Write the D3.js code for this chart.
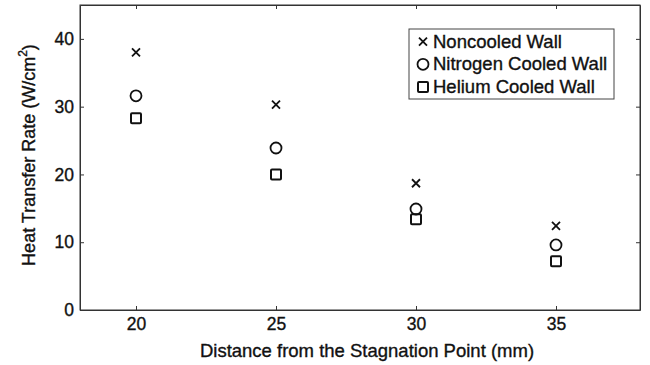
<!DOCTYPE html>
<html>
<head>
<meta charset="utf-8">
<script src="https://cdn.jsdelivr.net/npm/d3@7"></script>
<style>
  html, body { margin: 0; padding: 0; background: #fff; }
  svg text { font-family: "Liberation Sans", Arial, Helvetica, sans-serif; fill: #111; stroke: #111; stroke-width: 0.35px; }
</style>
</head>
<body>
<div id="chart"></div>
<script>
// distances along the wall (mm)
const distances = [20, 25, 30, 35];
// heat transfer rate (W/cm^2)
const noncooled = [38.0, 30.3, 18.7, 12.4];
const nitrogen = [31.6, 23.9, 14.9, 9.6];
const helium = [28.3, 20.0, 13.4, 7.2];

const xTicks = [20, 25, 30, 35];
const yTicks = [0, 10, 20, 30, 40];

const seriesNames = ["Noncooled Wall", "Nitrogen Cooled Wall", "Helium Cooled Wall"];
const seriesShapes = ["cross", "circle", "square"];

const width = 650, height = 365;
const margin = { top: 5, right: 10, bottom: 55, left: 80 };

const svg = d3.select("#chart").append("svg")
    .attr("width", width)
    .attr("height", height);

const x = d3.scaleLinear().domain([18, 38]).range([margin.left, width - margin.right]);
const y = d3.scaleLinear().domain([0, 45]).range([height - margin.bottom, margin.top]);

const axisColor = "#333";

// box
svg.append("rect")
    .attr("x", x(18)).attr("y", y(45))
    .attr("width", x(38) - x(18)).attr("height", y(0) - y(45))
    .attr("fill", "none").attr("stroke", axisColor).attr("stroke-width", 1);

// axes, ticks pointing inward
const xAxis = svg.append("g")
    .attr("transform", `translate(0,${y(0)})`)
    .call(d3.axisBottom(x).tickValues(xTicks).tickSizeInner(-4).tickSizeOuter(0).tickPadding(8));
const xTop = svg.append("g")
    .attr("transform", `translate(0,${y(45)})`)
    .call(d3.axisTop(x).tickValues(xTicks).tickSizeInner(-4).tickSizeOuter(0).tickFormat(""));
const yAxis = svg.append("g")
    .attr("transform", `translate(${x(18)},0)`)
    .call(d3.axisLeft(y).tickValues(yTicks).tickSizeInner(-4).tickSizeOuter(0).tickPadding(6));
const yRight = svg.append("g")
    .attr("transform", `translate(${x(38)},0)`)
    .call(d3.axisRight(y).tickValues(yTicks).tickSizeInner(-4).tickSizeOuter(0).tickFormat(""));

[xAxis, xTop, yAxis, yRight].forEach(g => {
    g.select(".domain").attr("stroke", axisColor);
    g.selectAll(".tick line").attr("stroke", axisColor);
    g.selectAll("text").attr("font-size", 17.5).attr("fill", "#111");
});

// axis labels
svg.append("text")
    .attr("x", 367).attr("y", 357)
    .attr("text-anchor", "middle")
    .attr("font-size", 18.5)
    .text("Distance from the Stagnation Point (mm)");

const yl = svg.append("text")
    .attr("transform", `translate(35,${155}) rotate(-90)`)
    .attr("text-anchor", "middle")
    .attr("font-size", 18);
yl.append("tspan").text("Heat Transfer Rate (W/cm");
yl.append("tspan").attr("font-size", 12).attr("dy", -8).text("2");
yl.append("tspan").attr("dy", 8).text(")");

// marker drawing
function drawMarker(g, shape) {
    if (shape === "cross") {
        g.append("path").attr("d", "M-4,-4L4,4M-4,4L4,-4")
            .attr("stroke", "#111").attr("stroke-width", 1.8).attr("fill", "none");
    } else if (shape === "circle") {
        g.append("circle").attr("r", 5.5)
            .attr("stroke", "#111").attr("stroke-width", 1.8).attr("fill", "none");
    } else {
        g.append("rect").attr("x", -5).attr("y", -5).attr("width", 10).attr("height", 10)
            .attr("rx", 1)
            .attr("stroke", "#111").attr("stroke-width", 2).attr("fill", "none");
    }
}

const allSeries = [noncooled, nitrogen, helium];
allSeries.forEach((vals, si) => {
    vals.forEach((v, i) => {
        const g = svg.append("g").attr("transform", `translate(${x(distances[i])},${y(v)})`);
        drawMarker(g, seriesShapes[si]);
    });
});

// legend
const legend = svg.append("g");
legend.append("rect")
    .attr("x", 409).attr("y", 29).attr("width", 205).attr("height", 70)
    .attr("fill", "#fff").attr("stroke", "#444").attr("stroke-width", 1);
seriesNames.forEach((name, i) => {
    const cy = 41.7 + i * 22.6;
    const g = legend.append("g").attr("transform", `translate(423,${cy})`);
    drawMarker(g, seriesShapes[i]);
    legend.append("text")
        .attr("x", 433).attr("y", cy + 6)
        .attr("font-size", 18.5)
        .text(name);
});
</script>
</body>
</html>
